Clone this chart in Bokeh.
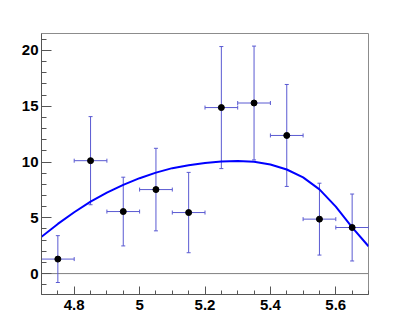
from bokeh.plotting import figure
from bokeh.models import (Range1d, FixedTicker, Whisker, TeeHead, Span,
                          ColumnDataSource)
from bokeh.embed import file_html
from bokeh.resources import INLINE

# ---- data ----
x_centers = [4.75, 4.85, 4.95, 5.05, 5.15, 5.25, 5.35, 5.45, 5.55, 5.65]
y_values = [1.30, 10.12, 5.56, 7.53, 5.47, 14.88, 15.29, 12.38, 4.88, 4.13]
y_errors = [2.10, 3.95, 3.08, 3.70, 3.60, 5.47, 5.10, 4.57, 3.22, 3.00]
x_half_width = [0.05] * 10

fit_x = [4.70, 4.75, 4.80, 4.85, 4.90, 4.95, 5.00, 5.05, 5.10, 5.15, 5.20,
         5.25, 5.30, 5.35, 5.40, 5.45, 5.50, 5.55, 5.60, 5.65, 5.70]
fit_y = [3.30, 4.45, 5.50, 6.45, 7.25, 7.95, 8.55, 9.05, 9.45, 9.72, 9.92,
         10.05, 10.10, 10.02, 9.78, 9.33, 8.62, 7.55, 6.00, 4.15, 2.45]

x_major_ticks = [4.8, 5.0, 5.2, 5.4, 5.6]
x_tick_labels = ["4.8", "5", "5.2", "5.4", "5.6"]
x_minor_ticks = [4.70, 4.75, 4.80, 4.85, 4.90, 4.95, 5.00, 5.05, 5.10, 5.15, 5.20,
                 5.25, 5.30, 5.35, 5.40, 5.45, 5.50, 5.55, 5.60, 5.65, 5.70]
y_major_ticks = [0, 5, 10, 15, 20]
y_minor_ticks = list(range(-1, 22))

x_lo, x_hi = 4.70, 5.70
y_lo, y_hi = -1.875, 21.52

# ---- figure ----
p = figure(width=401, height=319, output_backend="svg", toolbar_location=None,
           x_range=Range1d(x_lo, x_hi), y_range=Range1d(y_lo, y_hi),
           min_border_left=41, min_border_right=33, min_border_top=33,
           min_border_bottom=25)
p.background_fill_color = "white"
p.border_fill_color = "white"
p.outline_line_color = "#8c8c8c"
p.outline_line_width = 1
p.xgrid.visible = False
p.ygrid.visible = False

font = "Liberation Sans"
for ax in (p.xaxis[0], p.yaxis[0]):
    ax.axis_line_color = "#555555"
    ax.major_tick_line_color = "#555555"
    ax.minor_tick_line_color = "#555555"
    ax.major_label_text_font = font
    ax.major_label_text_font_style = "bold"
    ax.major_label_text_font_size = "15px"
    ax.major_label_text_color = "black"
    ax.major_tick_out = 0
    ax.minor_tick_out = 0

p.xaxis.ticker = FixedTicker(ticks=x_major_ticks, minor_ticks=x_minor_ticks)
p.xaxis.major_label_overrides = {t: l for t, l in zip(x_major_ticks, x_tick_labels)}
p.xaxis.major_tick_in = 8
p.xaxis.minor_tick_in = 4
p.xaxis.major_label_standoff = 5

p.yaxis.ticker = FixedTicker(ticks=y_major_ticks, minor_ticks=y_minor_ticks)
p.yaxis.major_tick_in = 10
p.yaxis.minor_tick_in = 5
p.yaxis.major_label_standoff = 3

# zero line
p.add_layout(Span(location=0, dimension="width", line_color="#808080",
                  line_width=1, level="underlay"))

src = ColumnDataSource(dict(
    x=x_centers, y=y_values,
    yup=[v + e for v, e in zip(y_values, y_errors)],
    ylo=[v - e for v, e in zip(y_values, y_errors)],
    xup=[x + w for x, w in zip(x_centers, x_half_width)],
    xlo=[x - w for x, w in zip(x_centers, x_half_width)],
))

err_col = "#5a5ad2"
vw = Whisker(source=src, base="x", upper="yup", lower="ylo", dimension="height",
             line_color=err_col, line_width=1, level="underlay",
             upper_head=TeeHead(size=4, line_color=err_col, line_width=1),
             lower_head=TeeHead(size=4, line_color=err_col, line_width=1))
hw = Whisker(source=src, base="y", upper="xup", lower="xlo", dimension="width",
             line_color=err_col, line_width=1, level="underlay",
             upper_head=TeeHead(size=4, line_color=err_col, line_width=1),
             lower_head=TeeHead(size=4, line_color=err_col, line_width=1))
p.add_layout(vw)
p.add_layout(hw)

p.line(fit_x, fit_y, line_color="#0000ff", line_width=2)
p.scatter("x", "y", source=src, size=6, fill_color="black", line_color="black")

open("out.html", "w").write(file_html(p, INLINE))
